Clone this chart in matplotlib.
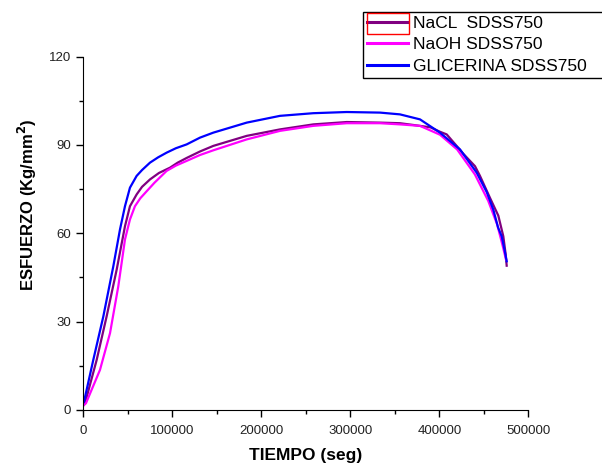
import matplotlib.pyplot as plt
from matplotlib.patches import Rectangle
from matplotlib.ticker import MultipleLocator

plt.rcParams['font.family'] = ['Liberation Sans', 'DejaVu Sans']

# NaCL SDSS750 (purple)
t_nacl = [0, 1900, 15000, 26200, 37500, 46800, 52400, 59900, 66000, 74900, 85000,
          97400, 106000, 116100, 131100, 146100, 183600, 221000, 258400, 296000,
          333400, 355800, 370800, 390000, 400700, 408300, 420000, 427000, 440100,
          445700, 457000, 466300, 471900, 474500, 475700]
s_nacl = [1.5, 2.3, 17, 31.8, 47.7, 62.4, 69.2, 73.2, 75.8, 78.3, 80.5,
          82.3, 84.0, 85.6, 87.8, 89.7, 93.1, 95.3, 97.0, 97.8,
          97.6, 97.4, 96.8, 96.0, 94.5, 93.6, 89.5, 87.0, 82.8,
          79.5, 72.0, 66.0, 59.0, 53.0, 49.0]

# NaOH SDSS750 (magenta)
t_naoh = [0, 3000, 18700, 30000, 39300, 46800, 52400, 58000, 64000, 71200, 80000,
          93600, 104000, 116100, 131100, 146100, 183600, 221000, 258400, 296000,
          333400, 355800, 378300, 400700, 420000, 440000, 455000, 465000, 471000,
          475000]
s_naoh = [1.5, 2.3, 13.6, 26.1, 42.0, 57.9, 64.7, 69.2, 71.9, 74.3, 77.2,
          81.2, 83.0, 84.6, 86.6, 88.2, 91.9, 94.8, 96.5, 97.4,
          97.4, 97.0, 96.5, 93.5, 88.5, 80.0, 71.0, 63.0, 56.0,
          51.0]

# GLICERINA SDSS750 (blue)
t_glic = [0, 750, 11200, 22500, 33700, 41200, 46800, 52400, 59900, 66000, 74900,
          84000, 93600, 104000, 116100, 131100, 146100, 183600, 221000, 258400,
          296000, 333400, 355800, 378300, 400700, 423200, 442000, 453300, 460700,
          466000, 470100, 473500, 475700]
s_glic = [2.5, 2.8, 17, 31.8, 48.8, 61.3, 69.2, 75.5, 79.5, 81.5, 84.0,
          85.8, 87.4, 88.9, 90.2, 92.5, 94.2, 97.6, 99.9, 100.8,
          101.2, 101.0, 100.4, 98.7, 94.2, 88.5, 80.6, 74.0, 68.0,
          62.0, 59.0, 54.0, 50.5]

fig = plt.figure(figsize=(6.02, 4.66), dpi=100)
ax = fig.add_axes([0.1384, 0.1202, 0.7392, 0.7582])

ax.plot(t_nacl, s_nacl, color='#800080', lw=1.6, label='NaCL  SDSS750')
ax.plot(t_naoh, s_naoh, color='#ff00ff', lw=1.6, label='NaOH SDSS750')
ax.plot(t_glic, s_glic, color='#0000ff', lw=1.6, label='GLICERINA SDSS750')

ax.set_xlim(0, 500000)
ax.set_ylim(0, 120)
ax.xaxis.set_major_locator(MultipleLocator(100000))
ax.xaxis.set_minor_locator(MultipleLocator(50000))
ax.yaxis.set_major_locator(MultipleLocator(30))
ax.yaxis.set_minor_locator(MultipleLocator(15))
ax.spines['top'].set_visible(False)
ax.spines['right'].set_visible(False)
ax.tick_params(which='major', direction='out', length=5, width=1, labelsize=9.5,
               labelcolor='#222222')
ax.tick_params(which='minor', direction='out', length=3, width=1)
ax.tick_params(axis='x', which='major', pad=6)
ax.tick_params(axis='y', which='major', pad=4)

ax.set_xlabel('TIEMPO (seg)', fontsize=12.5, fontweight='bold')
ax.xaxis.set_label_coords(0.5, -0.107)
ax.set_ylabel('ESFUERZO (Kg/mm$^{\\mathbf{2}}$)', fontsize=12, fontweight='bold')
ax.yaxis.set_label_coords(-0.10, 0.58)

# legend box runs past the right edge of the figure, like the original
leg = ax.legend(loc='upper left',
                bbox_to_anchor=(363 / 602, 1 - 11.7 / 466, 250 / 602, 0),
                bbox_transform=fig.transFigure, mode='expand', borderaxespad=0,
                fontsize=12.5, frameon=True, fancybox=False, edgecolor='black',
                framealpha=1, handlelength=2.4, handletextpad=0.25,
                labelspacing=0.38, borderpad=0.22)
leg.get_frame().set_linewidth(1.0)
for line in leg.get_lines():
    line.set_linewidth(2.2)

fig.add_artist(Rectangle((367 / 602, 1 - 34 / 466), 42 / 602, 21.3 / 466,
                         transform=fig.transFigure, fill=False,
                         edgecolor='red', lw=1, zorder=10))

fig.savefig('out.png', dpi=100)
